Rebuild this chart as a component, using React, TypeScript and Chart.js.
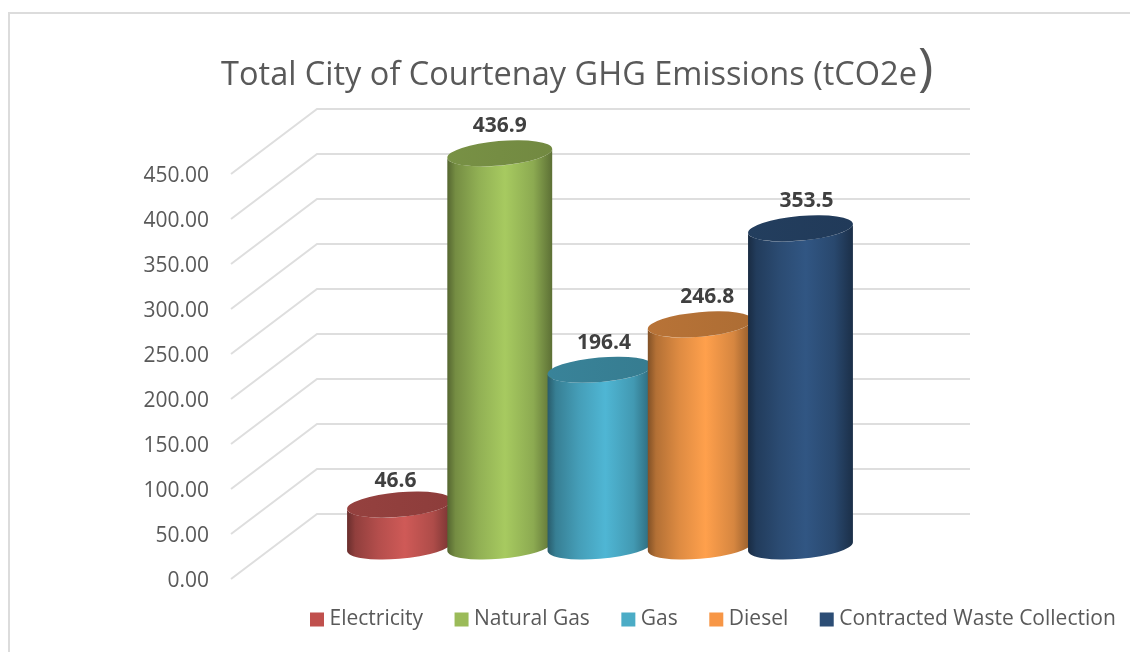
import React, { useEffect, useRef } from "react";
import { Chart, registerables } from "chart.js";

Chart.register(...registerables);

const categories = ["Total"];
const seriesNames = ["Electricity", "Natural Gas", "Gas", "Diesel", "Contracted Waste Collection"];
const seriesValues = [46.6, 436.9, 196.4, 246.8, 353.5];
const legendColors = ["#C0504D", "#9BBB59", "#4BACC6", "#F79646", "#2C4D75"];
const peakColors = ["#cf5a57", "#a7ca60", "#4fb6d4", "#ffa04c", "#315683"];
const titleText = "Total City of Courtenay GHG Emissions (tCO2e";
const labelNudgeX = [-4, 0, 4, 7, 6];
const labelNudgeY = [3, 0, 0, 0, 0];

const FONT = '"Open Sans", sans-serif';
const TEXT = "#595959";
const GRID = "#dedede";
const TILT = (-5 * Math.PI) / 180;
const RY = 12.3;
const TITLE_SIZE = 32.5;

function shade(hex: string, f: number) {
  const n = parseInt(hex.slice(1), 16);
  const c = [(n >> 16) & 255, (n >> 8) & 255, n & 255].map((v) => Math.round(v * f));
  return `rgb(${c[0]},${c[1]},${c[2]})`;
}

const scenePlugin = {
  id: "scene",
  beforeUpdate(chart: any) {
    const legend = chart.legend;
    if (legend && !legend.__wrapped) {
      legend.__wrapped = true;
      const fit = legend.fit;
      legend.fit = function () {
        fit.call(this);
        this.height = 73;
      };
    }
  },
  afterLayout(chart: any) {
    const legend = chart.legend;
    legend.left = 278.5;
    legend.right = 1300;
    legend.top = chart.chartArea.bottom - 6.5;
  },
  beforeDraw(chart: any) {
    const { ctx } = chart;
    ctx.save();
    ctx.strokeStyle = "#dcdcdc";
    ctx.lineWidth = 2;
    ctx.beginPath();
    ctx.moveTo(9, 652);
    ctx.lineTo(9, 13);
    ctx.lineTo(1130, 13);
    ctx.stroke();
    ctx.restore();
  },
  beforeDatasetsDraw(chart: any) {
    const { ctx, chartArea, scales } = chart;
    const yS = scales.y;
    ctx.save();
    ctx.strokeStyle = GRID;
    ctx.lineWidth = 2;
    yS.ticks.forEach((_: any, i: number) => {
      const py = yS.getPixelForTick(i);
      ctx.beginPath();
      ctx.moveTo(chartArea.left - 1, py);
      ctx.lineTo(chartArea.left + 85, py - 65);
      ctx.lineTo(chartArea.right + 2, py - 65);
      ctx.stroke();
    });
    ctx.restore();
  },
  beforeDatasetDraw() {
    return false;
  },
  afterDatasetsDraw(chart: any) {
    const { ctx } = chart;
    const t0 = Math.atan((RY / 52) * Math.tan(-TILT));
    chart.data.datasets.forEach((ds: any, i: number) => {
      const bar = chart.getDatasetMeta(i).data[0];
      const a = bar.width / 2;
      const left = bar.x - a;
      const peak = peakColors[i];
      const g = ctx.createLinearGradient(left, 0, left + bar.width, 0);
      g.addColorStop(0, shade(peak, 0.5));
      g.addColorStop(0.08, shade(peak, 0.7));
      g.addColorStop(0.3, shade(peak, 0.87));
      g.addColorStop(0.55, peak);
      g.addColorStop(0.82, shade(peak, 0.84));
      g.addColorStop(1, shade(peak, 0.55));
      ctx.save();
      ctx.fillStyle = g;
      ctx.beginPath();
      ctx.ellipse(bar.x, bar.base, a, RY, TILT, t0, t0 + Math.PI);
      ctx.ellipse(bar.x, bar.y, a, RY, TILT, t0 + Math.PI, t0 + 2 * Math.PI, true);
      ctx.closePath();
      ctx.fill();
      const tg = ctx.createLinearGradient(left, 0, left + bar.width, 0);
      tg.addColorStop(0, shade(peak, 0.72));
      tg.addColorStop(1, shade(peak, 0.68));
      ctx.fillStyle = tg;
      ctx.beginPath();
      ctx.ellipse(bar.x, bar.y, a, RY, TILT, 0, 2 * Math.PI);
      ctx.fill();
      ctx.restore();
    });
    ctx.save();
    ctx.font = `bold 21px ${FONT}`;
    ctx.fillStyle = "#404040";
    ctx.textAlign = "center";
    ctx.textBaseline = "middle";
    chart.data.datasets.forEach((ds: any, i: number) => {
      const bar = chart.getDatasetMeta(i).data[0];
      ctx.fillText(ds.data[0].toFixed(1), bar.x + labelNudgeX[i], bar.y - 27 + labelNudgeY[i]);
    });
    ctx.restore();
  },
  afterDraw(chart: any) {
    const { ctx } = chart;
    const t = chart.titleBlock;
    const cx = (t.left + t.right) / 2;
    ctx.save();
    ctx.font = `${TITLE_SIZE}px ${FONT}`;
    const w = ctx.measureText(titleText).width;
    ctx.font = `52px ${FONT}`;
    ctx.fillStyle = TEXT;
    ctx.textBaseline = "alphabetic";
    ctx.textAlign = "left";
    ctx.fillText(")", cx + w / 2 + 1, 85);
    ctx.restore();
  },
};

export default function App() {
  const ref = useRef<HTMLCanvasElement>(null);
  useEffect(() => {
    const chart = new Chart(ref.current!, {
      type: "bar",
      data: {
        labels: categories,
        datasets: seriesNames.map((name, i) => ({
          label: name,
          data: [seriesValues[i]],
          backgroundColor: legendColors[i],
          borderWidth: 0,
          yAxisID: "y2",
          barPercentage: 1.05,
          categoryPercentage: 0.681,
        })),
      },
      plugins: [scenePlugin],
      options: {
        responsive: false,
        animation: false,
        events: [],
        layout: { padding: { left: 8, right: 0, top: 0, bottom: 0 } },
        scales: {
          x: { display: false },
          y: {
            position: "left",
            min: 0,
            max: 450,
            grid: { display: false, drawTicks: false },
            border: { display: false },
            ticks: {
              stepSize: 50,
              padding: 23,
              labelOffset: 2,
              color: TEXT,
              font: { family: FONT, size: 21 },
              callback: (v: any) => Number(v).toFixed(2),
            },
            afterFit: (s: any) => {
              s.width = 224;
            },
          },
          y2: {
            position: "right",
            min: -36.1,
            max: 413.9,
            grid: { display: false, drawTicks: false },
            border: { display: false },
            ticks: { display: false },
            afterFit: (s: any) => {
              s.width = 162;
            },
          },
        },
        plugins: {
          title: {
            display: true,
            text: titleText,
            color: TEXT,
            font: { family: FONT, size: TITLE_SIZE, weight: "normal" },
            padding: { top: 56, bottom: 79 },
          },
          legend: {
            display: true,
            position: "bottom",
            align: "start",
            labels: {
              color: TEXT,
              font: { family: FONT, size: 21 },
              usePointStyle: true,
              pointStyle: "rect",
              boxWidth: 4,
              boxHeight: 14,
              padding: 36.5,
            },
          },
          tooltip: { enabled: false },
        },
      } as any,
    });
    return () => chart.destroy();
  }, []);
  return (
    <canvas
      ref={ref}
      width={1130}
      height={652}
      style={{ position: "fixed", left: 0, top: 0, display: "block" }}
    />
  );
}
